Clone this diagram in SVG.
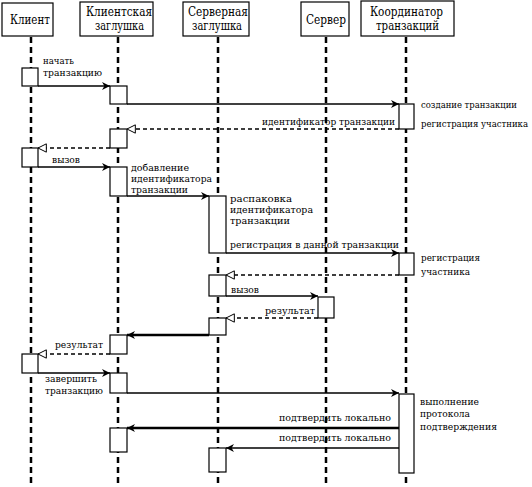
<svg xmlns="http://www.w3.org/2000/svg" width="532" height="487" viewBox="0 0 532 487">
<defs>
<style>
.hdr{fill:#fff;stroke:#000;stroke-width:1.2}
.life{stroke:#000;stroke-width:2.5;stroke-dasharray:6 4;fill:none}
.act{fill:#fff;stroke:#000;stroke-width:1.2}
.msg{stroke:#000;stroke-width:1.6;fill:none}
.thick{stroke:#000;stroke-width:2.4;fill:none}
.ret{stroke:#000;stroke-width:1.6;stroke-dasharray:4 3;fill:none}
text{font-family:"DejaVu Serif",serif;fill:#000}
.h{font-size:12.5px;text-anchor:middle}
.l{font-size:9.5px}
.r{font-size:9.5px;text-anchor:end}
.t{font-size:8.8px}
</style>
<marker id="sol" viewBox="0 0 10 10" refX="10" refY="5" markerWidth="10" markerHeight="8" markerUnits="userSpaceOnUse" orient="auto">
<path d="M0,0 L10,5 L0,10 L3,5 z" fill="#000"/>
</marker>
<marker id="opn" viewBox="0 0 12 12" refX="11" refY="6" markerWidth="11" markerHeight="10" markerUnits="userSpaceOnUse" orient="auto">
<path d="M1,1 L11,6 L1,11 z" fill="#fff" stroke="#000" stroke-width="1.2"/>
</marker>
</defs>
<rect width="532" height="487" fill="#fff"/>

<g id="client">
<rect class="hdr" x="2" y="3" width="51" height="33" stroke-width="2.2"/>
<text class="h" x="30" y="24" textLength="40" lengthAdjust="spacingAndGlyphs">Клиент</text>
<line class="life" x1="31" y1="37" x2="31" y2="487"/>
<rect class="act" x="22" y="68" width="16" height="18"/>
<rect class="act" x="22" y="148" width="16" height="19"/>
<rect class="act" x="22" y="354" width="16" height="19"/>
</g>

<g id="client-stub">
<rect class="hdr" x="80" y="2" width="73" height="34"/>
<text class="h" x="119" y="16" textLength="66" lengthAdjust="spacingAndGlyphs">Клиентская</text>
<text class="h" x="119.5" y="30" textLength="49" lengthAdjust="spacingAndGlyphs">заглушка</text>
<line class="life" x1="118" y1="37" x2="118" y2="487"/>
<rect class="act" x="110" y="86" width="17" height="18"/>
<rect class="act" x="110" y="129" width="17" height="19"/>
<rect class="act" x="110" y="167" width="17" height="29"/>
<rect class="act" x="110" y="335" width="17" height="19"/>
<rect class="act" x="110" y="373" width="17" height="20"/>
<rect class="act" x="110" y="428" width="17" height="24"/>
</g>

<g id="server-stub">
<rect class="hdr" x="183" y="2" width="66" height="34"/>
<text class="h" x="218" y="16" textLength="60" lengthAdjust="spacingAndGlyphs">Серверная</text>
<text class="h" x="217" y="30" textLength="50" lengthAdjust="spacingAndGlyphs">заглушка</text>
<line class="life" x1="218" y1="37" x2="218" y2="487"/>
<rect class="act" x="209" y="196" width="17" height="57"/>
<rect class="act" x="209" y="275" width="17" height="21"/>
<rect class="act" x="209" y="318" width="17" height="17"/>
<rect class="act" x="209" y="448" width="17" height="24"/>
</g>

<g id="server">
<rect class="hdr" x="301" y="2" width="48" height="34"/>
<text class="h" x="326" y="24" textLength="40" lengthAdjust="spacingAndGlyphs">Сервер</text>
<line class="life" x1="326" y1="37" x2="326" y2="487"/>
<rect class="act" x="318" y="297" width="16" height="21"/>
</g>

<g id="coordinator">
<rect class="hdr" x="361" y="1" width="93" height="35"/>
<text class="h" x="406.5" y="16" textLength="73" lengthAdjust="spacingAndGlyphs">Координатор</text>
<text class="h" x="407.5" y="30" textLength="63" lengthAdjust="spacingAndGlyphs">транзакций</text>
<line class="life" x1="406" y1="37" x2="406" y2="487"/>
<rect class="act" x="399" y="104" width="15" height="25"/>
<rect class="act" x="399" y="253" width="15" height="22"/>
<rect class="act" x="399" y="394" width="15" height="79"/>
</g>

<g id="connectors">
<line class="msg" x1="38" y1="86" x2="110" y2="86" marker-end="url(#sol)"/>
<line class="msg" x1="127" y1="104" x2="399" y2="104" marker-end="url(#sol)"/>
<line class="ret" x1="399" y1="129" x2="127" y2="129" marker-end="url(#opn)"/>
<line class="ret" x1="110" y1="148" x2="38" y2="148" marker-end="url(#opn)"/>
<line class="msg" x1="38" y1="167" x2="110" y2="167" marker-end="url(#sol)"/>
<line class="msg" x1="127" y1="196" x2="209" y2="196" marker-end="url(#sol)"/>
<line class="msg" x1="226" y1="253" x2="399" y2="253" marker-end="url(#sol)"/>
<line class="ret" x1="399" y1="275" x2="226" y2="275" marker-end="url(#opn)"/>
<line class="msg" x1="226" y1="296" x2="318" y2="296" marker-end="url(#sol)"/>
<line class="ret" x1="318" y1="318" x2="226" y2="318" marker-end="url(#opn)"/>
<line class="thick" x1="209" y1="335" x2="127" y2="335" marker-end="url(#sol)"/>
<line class="ret" x1="110" y1="354" x2="38" y2="354" marker-end="url(#opn)"/>
<line class="msg" x1="38" y1="373" x2="110" y2="373" marker-end="url(#sol)"/>
<line class="msg" x1="127" y1="393" x2="399" y2="393" marker-end="url(#sol)"/>
<line class="thick" x1="399" y1="428" x2="127" y2="428" marker-end="url(#sol)"/>
<line class="msg" x1="399" y1="448" x2="226" y2="448" marker-end="url(#sol)"/>
</g>

<g id="labels">
<text class="l" x="43" y="64" textLength="31" lengthAdjust="spacingAndGlyphs">начать</text>
<text class="l" x="43" y="76" textLength="59" lengthAdjust="spacingAndGlyphs">транзакцию</text>
<text class="l" x="421" y="108" textLength="96" lengthAdjust="spacingAndGlyphs">создание транзакции</text>
<text class="t" x="421" y="127" textLength="107" lengthAdjust="spacingAndGlyphs">регистрация участника</text>
<text class="r" x="395" y="125" textLength="133" lengthAdjust="spacingAndGlyphs">идентификатор транзакции</text>
<text class="l" x="52" y="163" textLength="28" lengthAdjust="spacingAndGlyphs">вызов</text>
<text class="l" x="131" y="171" textLength="58" lengthAdjust="spacingAndGlyphs">добавление</text>
<text class="l" x="131" y="182" textLength="81" lengthAdjust="spacingAndGlyphs">идентификатора</text>
<text class="l" x="131" y="193" textLength="57" lengthAdjust="spacingAndGlyphs">транзакции</text>
<text class="t" x="230" y="202" textLength="62" lengthAdjust="spacingAndGlyphs">распаковка</text>
<text class="l" x="230" y="213" textLength="83" lengthAdjust="spacingAndGlyphs">идентификатора</text>
<text class="t" x="230" y="224" textLength="60" lengthAdjust="spacingAndGlyphs">транзакции</text>
<text class="l" x="230" y="248" textLength="169" lengthAdjust="spacingAndGlyphs">регистрация в данной транзакции</text>
<text class="l" x="421" y="261" textLength="59" lengthAdjust="spacingAndGlyphs">регистрация</text>
<text class="l" x="421" y="275" textLength="49" lengthAdjust="spacingAndGlyphs">участника</text>
<text class="l" x="231" y="293" textLength="28" lengthAdjust="spacingAndGlyphs">вызов</text>
<text class="r" x="315" y="314" textLength="50" lengthAdjust="spacingAndGlyphs">результат</text>
<text class="l" x="55" y="348" textLength="48" lengthAdjust="spacingAndGlyphs">результат</text>
<text class="l" x="45" y="382" textLength="52" lengthAdjust="spacingAndGlyphs">завершить</text>
<text class="l" x="45" y="394" textLength="58" lengthAdjust="spacingAndGlyphs">транзакцию</text>
<text class="l" x="420" y="405" textLength="59" lengthAdjust="spacingAndGlyphs">выполнение</text>
<text class="t" x="420" y="417" textLength="50" lengthAdjust="spacingAndGlyphs">протокола</text>
<text class="l" x="420" y="430" textLength="77" lengthAdjust="spacingAndGlyphs">подтверждения</text>
<text class="r" x="391" y="421" textLength="112" lengthAdjust="spacingAndGlyphs">подтвердить локально</text>
<text class="r" x="391" y="441" textLength="112" lengthAdjust="spacingAndGlyphs">подтвердить локально</text>
</g>
</svg>
